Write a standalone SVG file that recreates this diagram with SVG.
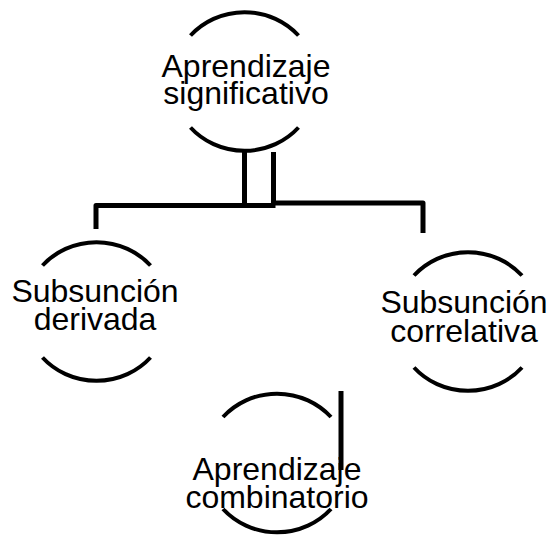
<svg xmlns="http://www.w3.org/2000/svg" width="555" height="536" viewBox="0 0 555 536">
  <style>
    .arc { fill: none; stroke: #000; stroke-width: 4; }
    .conn { fill: none; stroke: #000; stroke-width: 5; stroke-linejoin: round; }
    .lbl { font-family: "Liberation Sans", Arial, sans-serif; font-size: 32px; fill: #000; text-anchor: middle; }
  </style>
  <rect width="555" height="536" fill="#fff"/>
  <g id="connectors">
    <path class="conn" d="M 244.5,151 V 205.5 M 275.5,205.5 H 96 V 229"/>
    <path class="conn" d="M 273.5,152 V 203 H 423 V 233"/>
    <path class="conn" d="M 341,391 V 470"/>
  </g>
  <g id="node-significativo">
    <path class="arc" d="M 190.5,35.5 A 72 69 0 0 1 298.5,35.5"/>
    <path class="arc" d="M 190.5,127.5 A 72 69 0 0 0 298.5,127.5"/>
    <text class="lbl" x="246" y="77">Aprendizaje</text>
    <text class="lbl" x="246" y="104">significativo</text>
  </g>
  <g id="node-derivada">
    <path class="arc" d="M 42.5,265.5 A 72 69 0 0 1 150.5,265.5"/>
    <path class="arc" d="M 42.5,357.5 A 72 69 0 0 0 150.5,357.5"/>
    <text class="lbl" x="95" y="301.5">Subsunción</text>
    <text class="lbl" x="95" y="330">derivada</text>
  </g>
  <g id="node-correlativa">
    <path class="arc" d="M 414,275.5 A 72 69 0 0 1 522,275.5"/>
    <path class="arc" d="M 414,367.5 A 72 69 0 0 0 522,367.5"/>
    <text class="lbl" x="464" y="313">Subsunción</text>
    <text class="lbl" x="464" y="341.5">correlativa</text>
  </g>
  <g id="node-combinatorio">
    <path class="arc" d="M 223,417 A 72 69 0 0 1 331,417"/>
    <path class="arc" d="M 223,509 A 72 69 0 0 0 331,509"/>
    <text class="lbl" x="277" y="480">Aprendizaje</text>
    <text class="lbl" x="277" y="508">combinatorio</text>
  </g>
</svg>
